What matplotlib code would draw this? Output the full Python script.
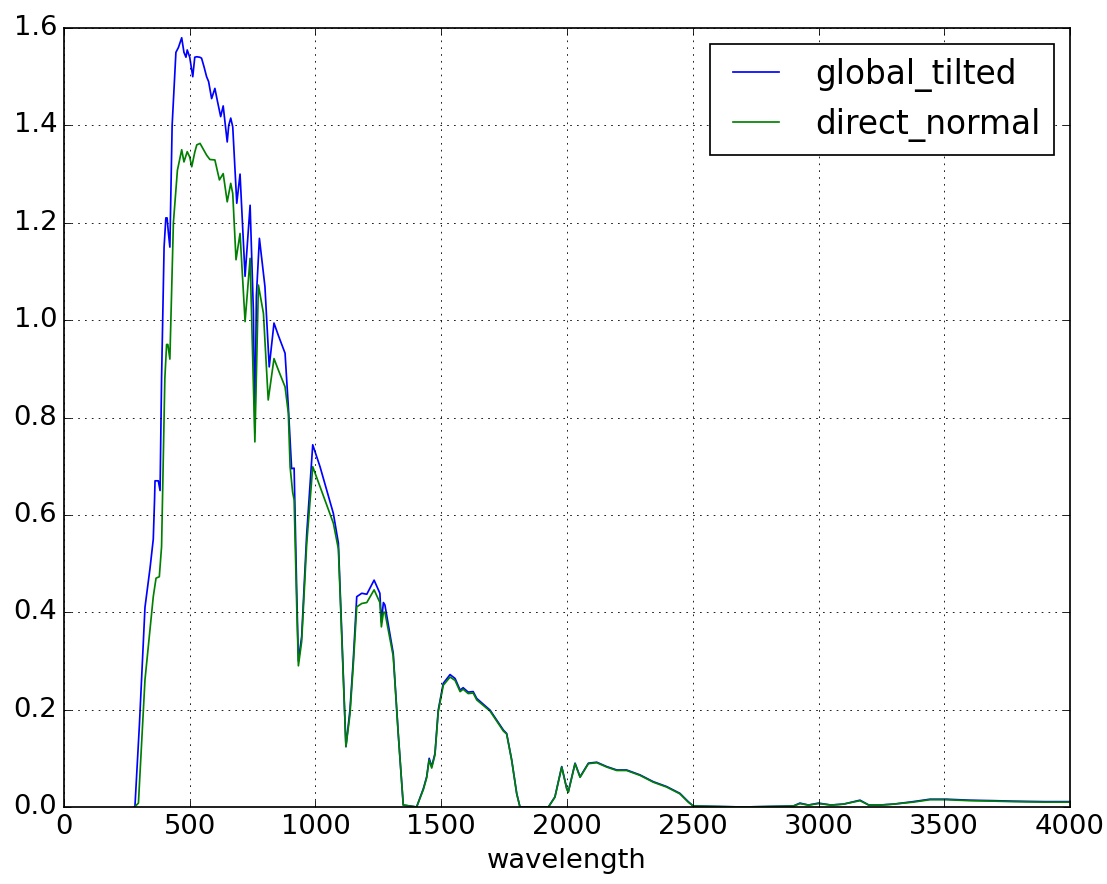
import matplotlib
matplotlib.use("Agg")
import matplotlib.pyplot as plt

# global_tilted spectrum
gt_wl = [280, 282, 300, 322, 342, 355, 360, 362, 375, 382, 388, 398, 405, 410, 415, 421,
         430, 445, 455, 468, 477, 485, 490, 500, 512, 520, 528, 540, 547, 557, 567, 575,
         587, 600, 610, 623, 633, 649, 655, 663, 671, 687, 700, 720, 740, 753, 759, 765,
         777, 799, 816, 835, 852, 879, 892, 905, 915, 925, 932, 945, 965, 989, 1018, 1071,
         1091, 1105, 1121, 1137, 1150, 1164, 1184, 1204, 1233, 1256, 1262, 1270, 1276, 1309,
         1329, 1349, 1402, 1429, 1442, 1452, 1462, 1475, 1488, 1508, 1535, 1555, 1575, 1587,
         1607, 1627, 1641, 1694, 1747, 1760, 1780, 1800, 1813, 1926, 1952, 1979, 1999, 2005,
         2032, 2052, 2085, 2118, 2158, 2198, 2237, 2290, 2343, 2396, 2449, 2482, 2502, 2700,
         2900, 2926, 2960, 3000, 3050, 3100, 3165, 3200, 3244, 3300, 3376, 3443, 3509, 3600,
         3700, 3773, 3900, 4000]
gt_val = [0.0, 0.0, 0.17, 0.41, 0.49, 0.55, 0.63, 0.67, 0.67, 0.65, 0.88, 1.15, 1.21, 1.21, 1.18, 1.15,
          1.40, 1.55, 1.56, 1.58, 1.55, 1.54, 1.555, 1.54, 1.50, 1.54, 1.541, 1.54, 1.538, 1.52, 1.50, 1.49,
          1.455, 1.476, 1.45, 1.418, 1.44, 1.366, 1.40, 1.415, 1.397, 1.24, 1.30, 1.09, 1.236, 1.02, 0.77, 1.05,
          1.168, 1.069, 0.904, 0.994, 0.969, 0.932, 0.822, 0.695, 0.696, 0.45, 0.30, 0.35, 0.56, 0.744, 0.699, 0.603,
          0.542, 0.35, 0.124, 0.199, 0.30, 0.432, 0.439, 0.437, 0.466, 0.439, 0.38, 0.42, 0.415, 0.316,
          0.151, 0.004, 0.0, 0.038, 0.062, 0.10, 0.083, 0.11, 0.199, 0.254, 0.272, 0.264, 0.240, 0.245,
          0.236, 0.237, 0.223, 0.199, 0.158, 0.151, 0.097, 0.028, 0.0, 0.0, 0.021, 0.083, 0.038, 0.031,
          0.09, 0.062, 0.09, 0.092, 0.083, 0.076, 0.076, 0.066, 0.052, 0.042, 0.028, 0.011, 0.002, 0.0,
          0.002, 0.008, 0.004, 0.008, 0.004, 0.006, 0.014, 0.004, 0.004, 0.006, 0.011, 0.016, 0.016, 0.014,
          0.013, 0.012, 0.011, 0.011]

# direct_normal spectrum
dn_wl = [280, 296, 322, 355, 366, 379, 388, 401, 408, 413, 421, 435, 451, 460, 468, 477,
         490, 500, 508, 520, 528, 541, 555, 567, 580, 600, 618, 633, 649, 663, 671, 684,
         700, 720, 740, 759, 773, 793, 812, 835, 852, 879, 892, 899, 909, 915, 925, 932,
         945, 965, 989, 1018, 1071, 1091, 1105, 1121, 1137, 1150, 1164, 1184, 1204, 1233,
         1256, 1262, 1270, 1276, 1309, 1329, 1349, 1402, 1429, 1442, 1452, 1462, 1475, 1488,
         1508, 1535, 1555, 1575, 1587, 1607, 1627, 1641, 1694, 1747, 1760, 1780, 1800, 1813,
         1926, 1952, 1979, 1999, 2005, 2032, 2052, 2085, 2118, 2158, 2198, 2237, 2290, 2343,
         2396, 2449, 2482, 2502, 2700, 2900, 2926, 2960, 3000, 3050, 3100, 3165, 3200, 3244,
         3300, 3376, 3443, 3509, 3600, 3700, 3773, 3900, 4000]
dn_val = [0.0, 0.008, 0.261, 0.432, 0.47, 0.473, 0.535, 0.88, 0.95, 0.95, 0.92, 1.20, 1.308, 1.33, 1.35, 1.325,
          1.346, 1.335, 1.315, 1.345, 1.36, 1.363, 1.35, 1.339, 1.33, 1.329, 1.288, 1.301, 1.243, 1.281, 1.26, 1.124,
          1.178, 0.997, 1.127, 0.75, 1.072, 1.014, 0.836, 0.921, 0.898, 0.863, 0.809, 0.699, 0.647, 0.631, 0.42, 0.29,
          0.34, 0.54, 0.699, 0.658, 0.583, 0.53, 0.34, 0.124, 0.19, 0.29, 0.411, 0.418, 0.42, 0.446,
          0.42, 0.37, 0.40, 0.40, 0.31, 0.15, 0.004, 0.0, 0.036, 0.06, 0.097, 0.08, 0.107, 0.195,
          0.25, 0.267, 0.26, 0.237, 0.242, 0.233, 0.234, 0.22, 0.197, 0.156, 0.15, 0.096, 0.027, 0.0,
          0.0, 0.02, 0.082, 0.037, 0.03, 0.089, 0.061, 0.089, 0.091, 0.082, 0.075, 0.075, 0.065, 0.051,
          0.041, 0.027, 0.01, 0.002, 0.0, 0.002, 0.007, 0.004, 0.007, 0.004, 0.006, 0.013, 0.004, 0.004,
          0.006, 0.01, 0.015, 0.015, 0.013, 0.012, 0.011, 0.010, 0.010]

plt.style.use("classic")
plt.rcParams["font.size"] = 16

fig = plt.figure(figsize=(9.0, 7.187), dpi=123, facecolor="white")
ax = fig.add_axes([0.0578, 0.0871, 0.9088, 0.8812])

ax.plot(gt_wl, gt_val, color="b", label="global_tilted")
ax.plot(dn_wl, dn_val, color="g", label="direct_normal")

ax.set_xlim(0, 4000)
ax.set_ylim(0, 1.6)
ax.set_xlabel("wavelength")
ax.grid(True)
ax.legend(loc="upper right")

fig.savefig("out.png", dpi=123, facecolor="white")
